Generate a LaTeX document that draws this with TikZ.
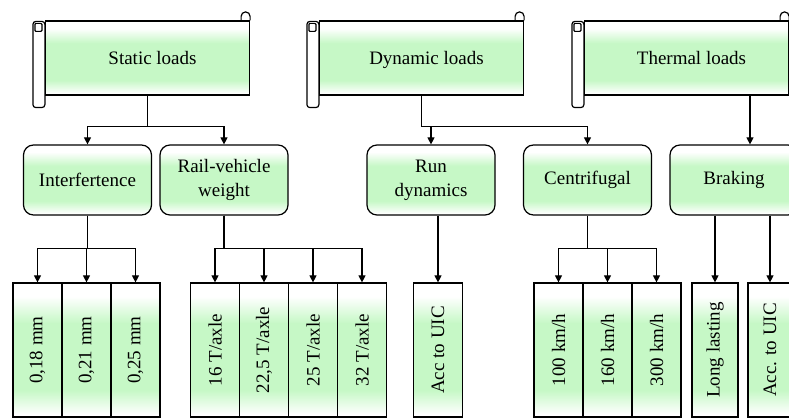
\documentclass[tikz,border=0pt]{standalone}
\usepackage{fontspec}
\setmainfont{Liberation Serif}
\usetikzlibrary{arrows.meta}
\definecolor{paleGreen}{RGB}{198,248,198}
\pgfdeclareverticalshading{greenband}{100bp}{color(0bp)=(white); color(26bp)=(white); color(35bp)=(paleGreen); color(60bp)=(paleGreen); color(70bp)=(white); color(100bp)=(white)}
\begin{document}
\begin{tikzpicture}
  [x=1pt,y=1pt,>={Triangle[width=7pt,length=7pt]},
   every node/.style={font=\fontsize{19}{24}\selectfont,line width=1.2pt},
   scrollbody/.style={draw,shading=greenband,minimum width=204pt,minimum height=74pt,text depth=-6pt},
   loadbox/.style={draw,shading=greenband,rounded corners=10pt,minimum width=128pt,minimum height=70pt,align=center},
   valuebox/.style={draw,shading=greenband,minimum width=49pt,minimum height=134pt,inner sep=0pt},
   link/.style={->,line width=1.2pt}]
  \useasboundingbox (0,0) rectangle (789,419);
  \clip (0,0) rectangle (789,419);

  % scrolls
  \node[scrollbody] (s1) at (147.5,361) {\hspace*{10pt}Static loads};
  \node[scrollbody] (s2) at (421.5,361) {\hspace*{10pt}Dynamic loads};
  \node[scrollbody] (s3) at (686.5,361) {\hspace*{10pt}Thermal loads};
  \foreach \s in {s1,s2,s3} {
    \draw[line width=1.2pt,fill=white,rounded corners=3pt] ([xshift=-12pt,yshift=-1pt]\s.north west) rectangle ([yshift=-12pt]\s.south west);
    \draw[line width=1.2pt,rounded corners=1pt] ([xshift=-10pt,yshift=-11pt]\s.north west) rectangle ([xshift=-3pt,yshift=-3pt]\s.north west);
    \draw[line width=1.2pt] ([xshift=-9pt]\s.north east) -- ++(0,4) arc[start angle=180,end angle=0,radius=4.5pt] -- ++(0,-4);
  }

  % load types
  \node[loadbox] (m1) at (87.5,239) {Interfertence};
  \node[loadbox] (m2) at (224,239) {Rail-vehicle\\weight};
  \node[loadbox] (m3) at (431,239) {Run\\dynamics};
  \node[loadbox] (m4) at (587.5,239) {Centrifugal};
  \node[loadbox] (m5) at (734,239) {Braking};

  % values
  \node[valuebox] (b1) at (37.5,69) {\rotatebox{90}{0,18 mm}};
  \node[valuebox] (b2) at (86.5,69) {\rotatebox{90}{0,21 mm}};
  \node[valuebox] (b3) at (135.5,69) {\rotatebox{90}{0,25 mm}};
  \node[valuebox] (b4) at (215,69) {\rotatebox{90}{16 T/axle}};
  \node[valuebox] (b5) at (264,69) {\rotatebox{90}{22,5 T/axle}};
  \node[valuebox] (b6) at (313,69) {\rotatebox{90}{25 T/axle}};
  \node[valuebox] (b7) at (362,69) {\rotatebox{90}{32 T/axle}};
  \node[valuebox] (b8) at (438,69) {\rotatebox{90}{Acc to UIC}};
  \node[valuebox] (b9) at (558.5,69) {\rotatebox{90}{100 km/h}};
  \node[valuebox] (b10) at (607.5,69) {\rotatebox{90}{160 km/h}};
  \node[valuebox] (b11) at (656.5,69) {\rotatebox{90}{300 km/h}};
  \node[valuebox,minimum width=46pt] (b12) at (715,69) {\rotatebox{90}{Long lasting}};
  \node[valuebox,minimum width=44pt] (b13) at (770,69) {\rotatebox{90}{Acc. to UIC}};

  \foreach \to in {m1,m2}
    \draw[link] (s1.south) -- ++(0,-31) -| (\to.north);
  \foreach \to in {m3,m4}
    \draw[link] (s2.south) -- ++(0,-31) -| (\to.north);
  \draw[link] ([xshift=16pt]m5.north |- s3.south) -- ([xshift=16pt]m5.north);

  \foreach \to in {b1,b2,b3}
    \draw[link] (m1.south) -- ++(0,-33) -| (\to.north);
  \foreach \to in {b4,b5,b6,b7}
    \draw[link] (m2.south) -- ++(0,-33) -| (\to.north);
  \foreach \to in {b9,b10,b11}
    \draw[link] (m4.south) -- ++(0,-33) -| (\to.north);
  \foreach \to in {b12,b13}
    \draw[link] (\to.north |- m5.south) -- (\to.north);
  \draw[link] (b8.north |- m3.south) -- (b8.north);

\end{tikzpicture}
\end{document}
